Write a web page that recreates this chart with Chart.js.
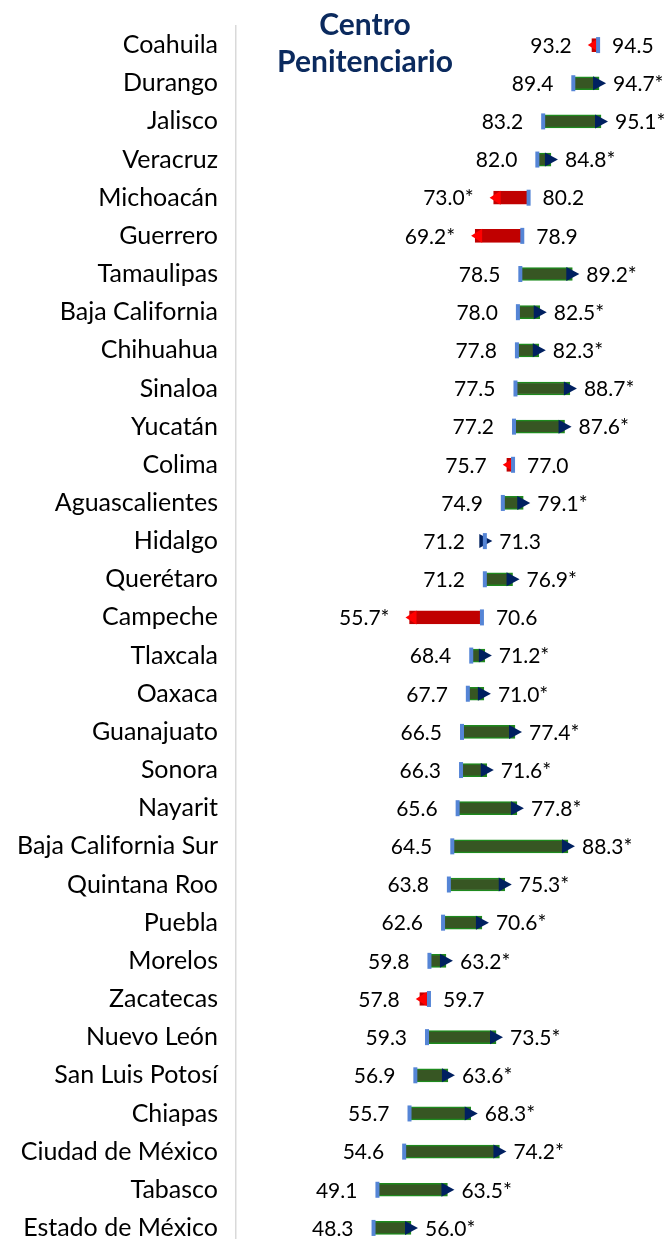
<!DOCTYPE html>
<html>
<head>
<meta charset="utf-8">
<script src="https://cdn.jsdelivr.net/npm/chart.js@4.4.1/dist/chart.umd.min.js"></script>
<style>
  html, body { margin: 0; padding: 0; background: #ffffff; overflow: hidden; }
  #wrap { width: 671px; height: 1239px; overflow: hidden; position: relative; }
  canvas { display: block; }
</style>
</head>
<body>
<div id="wrap"><canvas id="c" width="671" height="1247"></canvas></div>
<script>
const states = ["Coahuila","Durango","Jalisco","Veracruz","Michoacán","Guerrero","Tamaulipas","Baja California","Chihuahua","Sinaloa","Yucatán","Colima","Aguascalientes","Hidalgo","Querétaro","Campeche","Tlaxcala","Oaxaca","Guanajuato","Sonora","Nayarit","Baja California Sur","Quintana Roo","Puebla","Morelos","Zacatecas","Nuevo León","San Luis Potosí","Chiapas","Ciudad de México","Tabasco","Estado de México"];
const before = [94.5,89.4,83.2,82.0,80.2,78.9,78.5,78.0,77.8,77.5,77.2,77.0,74.9,71.2,71.2,70.6,68.4,67.7,66.5,66.3,65.6,64.5,63.8,62.6,59.8,59.7,59.3,56.9,55.7,54.6,49.1,48.3];
const after = [93.2,94.7,95.1,84.8,73.0,69.2,89.2,82.5,82.3,88.7,87.6,75.7,79.1,71.3,76.9,55.7,71.2,71.0,77.4,71.6,77.8,88.3,75.3,70.6,63.2,57.8,73.5,63.6,68.3,74.2,63.5,56.0];
const significant = [false,true,true,true,true,true,true,true,true,true,true,false,true,false,true,true,true,true,true,true,true,true,true,true,true,false,true,true,true,true,true,true];
const titleLines = ["Centro", "Penitenciario"];

const GREEN_FILL = '#375623', GREEN_EDGE = '#1E8A1E';
const RED_FILL = '#C00000', RED_ARROW = '#FF0000';
const NAVY = '#002060', MARKER = '#5585D6';
const FONT = 'Lato, "Open Sans", sans-serif';

const overlay = {
  id: 'overlay',
  afterDatasetsDraw(chart) {
    const ctx = chart.ctx;
    const xs = chart.scales.x, ys = chart.scales.y;
    ctx.save();
    for (let i = 0; i < states.length; i++) {
      const y = ys.getPixelForValue(i);
      const x1 = xs.getPixelForValue(before[i]);
      const x2 = xs.getPixelForValue(after[i]);
      const up = after[i] >= before[i];
      ctx.beginPath();
      if (up) {
        ctx.fillStyle = NAVY;
        ctx.moveTo(x2 - 6, y - 7);
        ctx.lineTo(x2 + 7, y);
        ctx.lineTo(x2 - 6, y + 7);
      } else {
        ctx.fillStyle = RED_ARROW;
        ctx.moveTo(x2 + 7, y - 7);
        ctx.lineTo(x2 - 4, y);
        ctx.lineTo(x2 + 7, y + 7);
      }
      ctx.closePath();
      ctx.fill();
      ctx.fillStyle = MARKER;
      ctx.fillRect(x1 - 2, y - 8, 4, 16);
      const lo = Math.min(before[i], after[i]);
      const hi = Math.max(before[i], after[i]);
      const txtAfter = after[i].toFixed(1) + (significant[i] ? '*' : '');
      const txtBefore = before[i].toFixed(1);
      const leftTxt = up ? txtBefore : txtAfter;
      const rightTxt = up ? txtAfter : txtBefore;
      ctx.font = '21px ' + FONT;
      ctx.fillStyle = '#000000';
      ctx.textBaseline = 'middle';
      ctx.textAlign = 'right';
      ctx.fillText(leftTxt, xs.getPixelForValue(lo) - 20, y + 1);
      ctx.textAlign = 'left';
      ctx.fillText(rightTxt, xs.getPixelForValue(hi) + 14, y + 1);
    }
    ctx.font = 'bold 30px ' + FONT;
    ctx.fillStyle = '#0B2A5E';
    ctx.textAlign = 'center';
    ctx.textBaseline = 'middle';
    ctx.fillText(titleLines[0], 365, 25);
    ctx.fillText(titleLines[1], 365, 62);
    ctx.restore();
  }
};

new Chart(document.getElementById('c'), {
  type: 'bar',
  data: {
    labels: states,
    datasets: [{
      data: states.map((s, i) => [before[i], after[i]]),
      backgroundColor: states.map((s, i) => after[i] >= before[i] ? GREEN_FILL : RED_FILL),
      borderColor: states.map((s, i) => after[i] >= before[i] ? GREEN_EDGE : RED_FILL),
      borderWidth: 1.5,
      borderSkipped: false,
      barThickness: 13
    }]
  },
  options: {
    indexAxis: 'y',
    responsive: false,
    animation: false,
    devicePixelRatio: 1,
    layout: { padding: { top: 26, right: 0, bottom: 0, left: 0 } },
    plugins: { legend: { display: false }, tooltip: { enabled: false }, title: { display: false } },
    scales: {
      x: { display: false, min: 20, max: 109.5 },
      y: {
        grid: { display: false, drawTicks: false },
        border: { display: true, color: '#D9D9D9', width: 1.5 },
        ticks: { color: '#000000', font: { family: FONT, size: 25 }, padding: 18 },
        afterFit(scale) { scale.width = 236; scale.paddingTop = 0; scale.paddingBottom = 0; }
      }
    }
  },
  plugins: [overlay]
});
</script>
</body>
</html>
